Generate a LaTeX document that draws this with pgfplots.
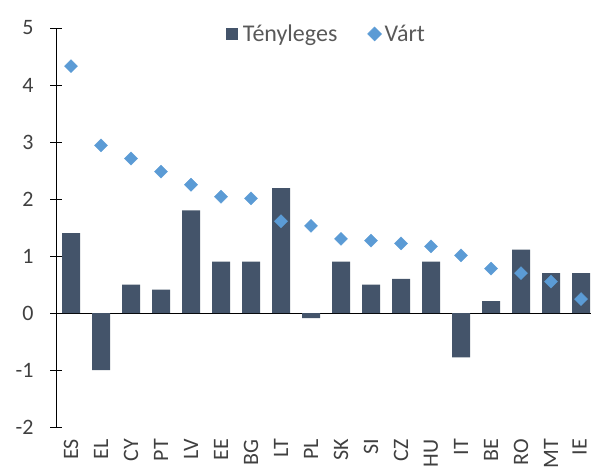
\documentclass[border=0pt]{standalone}
\usepackage{fontspec}
\setmainfont{Carlito}
\usepackage{pgfplots}
\pgfplotsset{compat=1.18}
\definecolor{barc}{HTML}{44546A}
\definecolor{diac}{HTML}{5B9BD5}
\definecolor{txt}{HTML}{404040}
\definecolor{legtxt}{HTML}{595959}
\begin{document}
\begin{tikzpicture}
\useasboundingbox (0bp,0bp) rectangle (591bp,470bp);
\begin{axis}[
  at={(56bp,43bp)}, anchor=south west,
  scale only axis, width=535.5bp, height=399bp,
  xmin=-0.5, xmax=17.35, ymin=-2, ymax=5,
  axis y line*=left, axis x line*=bottom,
  x axis line style={draw=none},
  y axis line style={black},
  xtick={0,...,17},
  xticklabels={ES,EL,CY,PT,LV,EE,BG,LT,PL,SK,SI,CZ,HU,IT,BE,RO,MT,\raisebox{3bp}{IE}},
  xtick style={draw=none},
  x tick label style={yshift=-6bp, rotate=90, anchor=east, inner sep=0pt},
  ytick={-2,-1,0,1,2,3,4,5},
  yticklabels={-2,-1,0,1,2,3,4,5},
  y tick label style={xshift=-13bp},
  ytick style={black},
  tick align=center, major tick length=12bp,
  extra y ticks={0}, extra y tick labels={},
  extra y tick style={grid=major, major grid style={black}},
  tick label style={font=\fontsize{22bp}{25bp}\selectfont, text=txt},
  legend style={at={(0.505,0.985)}, anchor=center, draw=none, fill=none,
    font=\fontsize{24bp}{27bp}\selectfont, text=legtxt,
    /tikz/every even column/.append style={column sep=28bp}},
  legend columns=2,
]
\addplot[ybar, bar width=18bp, fill=barc, draw=none,
  legend image code/.code={\fill[barc] (0bp,-6bp) rectangle (12bp,6bp); \path (15bp,0bp);}]
  coordinates {(0,1.4) (1,-1.0) (2,0.5) (3,0.41) (4,1.8) (5,0.9) (6,0.9) (7,2.19) (8,-0.09)
  (9,0.9) (10,0.5) (11,0.6) (12,0.9) (13,-0.78) (14,0.21) (15,1.11) (16,0.7) (17,0.7)};
\addlegendentry{Tényleges}
\addplot[diac, only marks, mark=square*, mark size=4.6bp, mark options={rotate=45},
  legend image code/.code={\fill[diac] (0bp,0bp) -- (7bp,7bp) -- (14bp,0bp) -- (7bp,-7bp) -- cycle; \path (15bp,0bp);}]
  coordinates {(0,4.33) (1,2.94) (2,2.71) (3,2.48) (4,2.25) (5,2.04) (6,2.01) (7,1.61) (8,1.53)
  (9,1.30) (10,1.27) (11,1.22) (12,1.17) (13,1.01) (14,0.78) (15,0.70) (16,0.55) (17,0.245)};
\addlegendentry{Várt}
\end{axis}
\end{tikzpicture}
\end{document}
